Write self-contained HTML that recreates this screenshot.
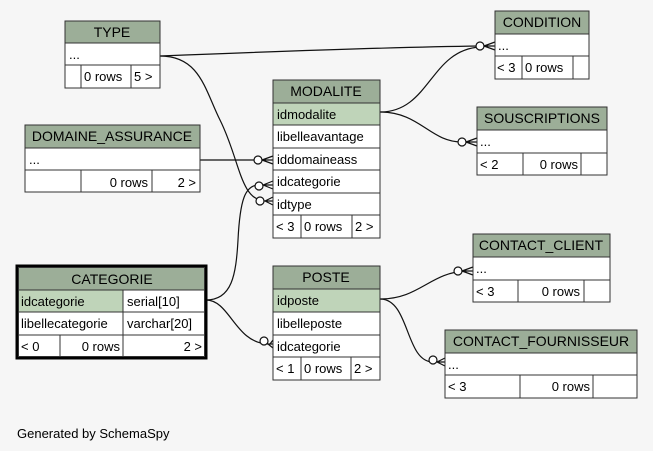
<!DOCTYPE html>
<html><head><style>
body{margin:0;background:#f6f6f6;}
svg{display:block;font-family:"Liberation Sans",Arial,sans-serif;font-size:13px;}
.h{fill:#9cae98;stroke:#333;stroke-width:1}
.r{fill:#fff;stroke:#333;stroke-width:1}
.k{fill:#bfd4b9;stroke:#333;stroke-width:1}
.e{fill:none;stroke:#111;stroke-width:1.2}
.c{fill:#fff;stroke:#111;stroke-width:1.2}
</style></head><body>
<svg width="653" height="451" viewBox="0 0 653 451">
<rect width="653" height="451" fill="#f6f6f6"/>
<path class="e" d="M160,56 C260,52 400,47 480,46"/>
<path class="e" d="M160,56 C200,56 205,90 220,120 C240,160 240,200 265,201"/>
<path class="e" d="M200,160 L258,160"/>
<path class="e" d="M206,300 C232,300 236,275 238,240 C240,200 245,185 259,185"/>
<path class="e" d="M206,300 C230,300 235,343 268,344"/>
<path class="e" d="M380,112 C430,112 430,50 480,47"/>
<path class="e" d="M380,112 C420,112 430,142 462,142"/>
<path class="e" d="M380,299 C420,299 430,272 467,271"/>
<path class="e" d="M380,299 C410,299 405,362 433,362"/>
<g class="e">
<path d="M484,46 L495,42 M484,46 L495,46 M484,46 L495,50"/>
<path d="M262,160 L273,156 M262,160 L273,160 M262,160 L273,164"/>
<path d="M263,185 L273,181 M263,185 L273,185 M263,185 L273,189"/>
<path d="M265,201 L273,197 M265,201 L273,201 M265,201 L273,205"/>
<path d="M466,142 L477,138 M466,142 L477,142 M466,142 L477,146"/>
<path d="M270,344 L273,340 M268,344 L273,344 M268,344 L273,348"/>
<path d="M462,271 L473,267 M462,271 L473,271 M462,271 L473,275"/>
<path d="M437,362 L445,358 M437,362 L445,362 M437,362 L445,366"/>
</g>
<circle class="c" cx="480" cy="46" r="4"/>
<circle class="c" cx="258" cy="160" r="4"/>
<circle class="c" cx="259" cy="186" r="4"/>
<circle class="c" cx="260" cy="201" r="4"/>
<circle class="c" cx="462" cy="142" r="4"/>
<circle class="c" cx="264" cy="341" r="4"/>
<circle class="c" cx="458" cy="271" r="4"/>
<circle class="c" cx="433" cy="360" r="4"/>

<rect class="h" x="65" y="21" width="95" height="22"/>
<rect class="r" x="65" y="43" width="95" height="22"/>
<rect class="r" x="65" y="65" width="16" height="23"/><rect class="r" x="81" y="65" width="50" height="23"/><rect class="r" x="131" y="65" width="29" height="23"/>
<text x="112" y="37" text-anchor="middle" font-size="14">TYPE</text>
<text x="69" y="59">...</text>
<text x="84" y="81">0 rows</text><text x="134" y="81">5 &gt;</text>

<rect class="h" x="25" y="125" width="175" height="23"/>
<rect class="r" x="25" y="148" width="175" height="22"/>
<rect class="r" x="25" y="170" width="56" height="22"/><rect class="r" x="81" y="170" width="71" height="22"/><rect class="r" x="152" y="170" width="48" height="22"/>
<text x="112" y="141" text-anchor="middle" font-size="14">DOMAINE_ASSURANCE</text>
<text x="29" y="164">...</text>
<text x="148" y="187" text-anchor="end">0 rows</text><text x="196" y="187" text-anchor="end">2 &gt;</text>

<rect class="h" x="273" y="80" width="107" height="23"/>
<rect class="k" x="273" y="103" width="107" height="22"/>
<rect class="r" x="273" y="125" width="107" height="23"/>
<rect class="r" x="273" y="148" width="107" height="22"/>
<rect class="r" x="273" y="170" width="107" height="23"/>
<rect class="r" x="273" y="193" width="107" height="22"/>
<rect class="r" x="273" y="215" width="28" height="23"/><rect class="r" x="301" y="215" width="51" height="23"/><rect class="r" x="352" y="215" width="28" height="23"/>
<text x="326" y="96" text-anchor="middle" font-size="14">MODALITE</text>
<text x="277" y="119">idmodalite</text>
<text x="277" y="141">libelleavantage</text>
<text x="277" y="164">iddomaineass</text>
<text x="277" y="186">idcategorie</text>
<text x="277" y="209">idtype</text>
<text x="276" y="231">&lt; 3</text><text x="304" y="231">0 rows</text><text x="355" y="231">2 &gt;</text>

<rect class="h" x="495" y="11" width="94" height="23"/>
<rect class="r" x="495" y="34" width="94" height="22"/>
<rect class="r" x="495" y="56" width="27" height="23"/><rect class="r" x="522" y="56" width="51" height="23"/><rect class="r" x="573" y="56" width="16" height="23"/>
<text x="542" y="27" text-anchor="middle" font-size="14">CONDITION</text>
<text x="498" y="50">...</text>
<text x="497" y="72">&lt; 3</text><text x="525" y="72">0 rows</text>

<rect class="h" x="477" y="107" width="130" height="23"/>
<rect class="r" x="477" y="130" width="130" height="23"/>
<rect class="r" x="477" y="153" width="46" height="22"/><rect class="r" x="523" y="153" width="58" height="22"/><rect class="r" x="581" y="153" width="26" height="22"/>
<text x="542" y="123" text-anchor="middle" font-size="14">SOUSCRIPTIONS</text>
<text x="480" y="146">...</text>
<text x="480" y="169">&lt; 2</text><text x="578" y="169" text-anchor="end">0 rows</text>

<rect x="17" y="266" width="189" height="92" fill="none" stroke="#000" stroke-width="3"/>
<rect class="h" x="18.5" y="267.5" width="186" height="22.5"/>
<rect class="k" x="18.5" y="290" width="104.5" height="22"/><rect class="r" x="123" y="290" width="81.5" height="22"/>
<rect class="r" x="18.5" y="312" width="104.5" height="23"/><rect class="r" x="123" y="312" width="81.5" height="23"/>
<rect class="r" x="18.5" y="335" width="41.5" height="21.5"/><rect class="r" x="60" y="335" width="63" height="21.5"/><rect class="r" x="123" y="335" width="81.5" height="21.5"/>
<text x="112" y="284" text-anchor="middle" font-size="14">CATEGORIE</text>
<text x="21" y="306">idcategorie</text><text x="127" y="306">serial[10]</text>
<text x="21" y="328">libellecategorie</text><text x="127" y="328">varchar[20]</text>
<text x="21" y="351">&lt; 0</text><text x="120" y="351" text-anchor="end">0 rows</text><text x="202" y="351" text-anchor="end">2 &gt;</text>

<rect class="h" x="273" y="266" width="107" height="23"/>
<rect class="k" x="273" y="289" width="107" height="23"/>
<rect class="r" x="273" y="312" width="107" height="23"/>
<rect class="r" x="273" y="335" width="107" height="22"/>
<rect class="r" x="273" y="357" width="28" height="23"/><rect class="r" x="301" y="357" width="50" height="23"/><rect class="r" x="351" y="357" width="29" height="23"/>
<text x="326" y="282" text-anchor="middle" font-size="14">POSTE</text>
<text x="277" y="305">idposte</text>
<text x="277" y="328">libelleposte</text>
<text x="277" y="351">idcategorie</text>
<text x="276" y="373">&lt; 1</text><text x="304" y="373">0 rows</text><text x="354" y="373">2 &gt;</text>

<rect class="h" x="473" y="234" width="137" height="23"/>
<rect class="r" x="473" y="257" width="137" height="23"/>
<rect class="r" x="473" y="280" width="45" height="22"/><rect class="r" x="518" y="280" width="66" height="22"/><rect class="r" x="584" y="280" width="26" height="22"/>
<text x="541" y="250" text-anchor="middle" font-size="14">CONTACT_CLIENT</text>
<text x="476" y="273">...</text>
<text x="476" y="296">&lt; 3</text><text x="580" y="296" text-anchor="end">0 rows</text>

<rect class="h" x="445" y="330" width="192" height="23"/>
<rect class="r" x="445" y="353" width="192" height="22"/>
<rect class="r" x="445" y="375" width="75" height="23"/><rect class="r" x="520" y="375" width="73" height="23"/><rect class="r" x="593" y="375" width="44" height="23"/>
<text x="541" y="346" text-anchor="middle" font-size="14">CONTACT_FOURNISSEUR</text>
<text x="448" y="369">...</text>
<text x="448" y="391">&lt; 3</text><text x="590" y="391" text-anchor="end">0 rows</text>

<text x="17" y="438" font-size="13">Generated by SchemaSpy</text>
</svg>
</body></html>
